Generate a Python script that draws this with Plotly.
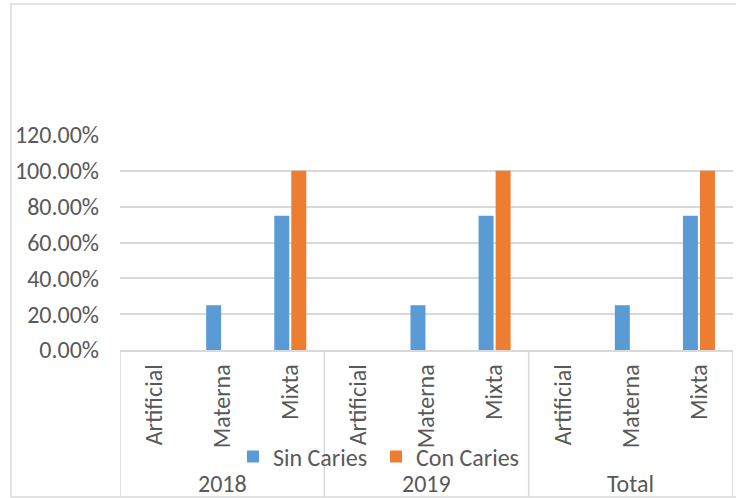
import plotly.graph_objects as go

# Data
groups = ["2018", "2019", "Total"]
feeding = ["Artificial", "Materna", "Mixta"]
sin_caries = [0.0, 0.25, 0.75]   # per group, same in every group
con_caries = [0.0, 0.0, 1.0]
sin_by_group = {"2018": sin_caries, "2019": sin_caries, "Total": sin_caries}
con_by_group = {"2018": con_caries, "2019": con_caries, "Total": con_caries}
y_ticks = [0, 0.2, 0.4, 0.6, 0.8, 1.0, 1.2]

BLUE = "#5B9BD5"
ORANGE = "#ED7D31"
GRID = "#D9D9D9"
TEXT = "#595959"
FONT = "Carlito, Calibri, Liberation Sans, Arial, sans-serif"
FS = 24

keys = [f"{g}|{c}" for g in groups for c in feeding]
labels = [c for g in groups for c in feeding]
sin_vals = [v for g in groups for v in sin_by_group[g]]
con_vals = [v for g in groups for v in con_by_group[g]]

fig = go.Figure()
fig.add_trace(go.Bar(x=keys, y=sin_vals, name="Sin Caries", marker_color=BLUE,
                     marker_line_width=0))
fig.add_trace(go.Bar(x=keys, y=con_vals, name="Con Caries", marker_color=ORANGE,
                     marker_line_width=0))

W, H = 736, 498
L, R, T, B = 120, 3, 135, 148
pw, ph = W - L - R, H - T - B

def px_x(px):
    return (px - L) / pw

def px_y(py):
    return (H - B - py) / ph

shapes = []
# outer chart frame
shapes.append(dict(type="rect", xref="paper", yref="paper",
                   x0=px_x(11), x1=px_x(740), y0=px_y(497), y1=px_y(4),
                   line=dict(color=GRID, width=1.5), layer="below"))
# group dividers under the category axis
n = len(feeding)
for i in range(len(groups) + 1):
    shapes.append(dict(type="line", xref="x", yref="paper",
                       x0=i * n - 0.5, x1=i * n - 0.5, y0=0, y1=px_y(497),
                       line=dict(color=GRID, width=1.5)))

annotations = []
for i, g in enumerate(groups):
    annotations.append(dict(text=g, x=keys[i * n + 1], xref="x", y=px_y(483), yref="paper",
                            showarrow=False, xanchor="center", yanchor="middle",
                            font=dict(family=FONT, size=FS, color=TEXT)))

fig.update_layout(
    width=W, height=H,
    margin=dict(l=L, r=R, t=T, b=B),
    paper_bgcolor="white", plot_bgcolor="white",
    barmode="group", bargap=0.5, bargroupgap=0.12,
    font=dict(family=FONT, size=FS, color=TEXT),
    shapes=shapes, annotations=annotations,
    legend=dict(orientation="h", x=px_x(233), xanchor="left",
                y=px_y(457), yanchor="middle",
                entrywidth=98, entrywidthmode="pixels",
                itemwidth=30,
                font=dict(family=FONT, size=FS, color=TEXT),
                bgcolor="rgba(0,0,0,0)"),
    xaxis=dict(type="category", range=[-0.5, len(keys) - 0.5],
               tickmode="array", tickvals=keys, ticktext=labels,
               tickangle=-90, showgrid=False, ticks="",
               ticklabelstandoff=3,
               showline=True, linecolor=GRID, linewidth=1.5,
               tickfont=dict(family=FONT, size=FS, color=TEXT)),
    yaxis=dict(range=[0, 1.2], tickvals=y_ticks, tickformat=".2%",
               showgrid=True, gridcolor=GRID, gridwidth=1.5,
               zeroline=False, showline=False, ticks="",
               ticklabelstandoff=20,
               tickfont=dict(family=FONT, size=FS, color=TEXT)),
)

fig.write_html("out.html")
